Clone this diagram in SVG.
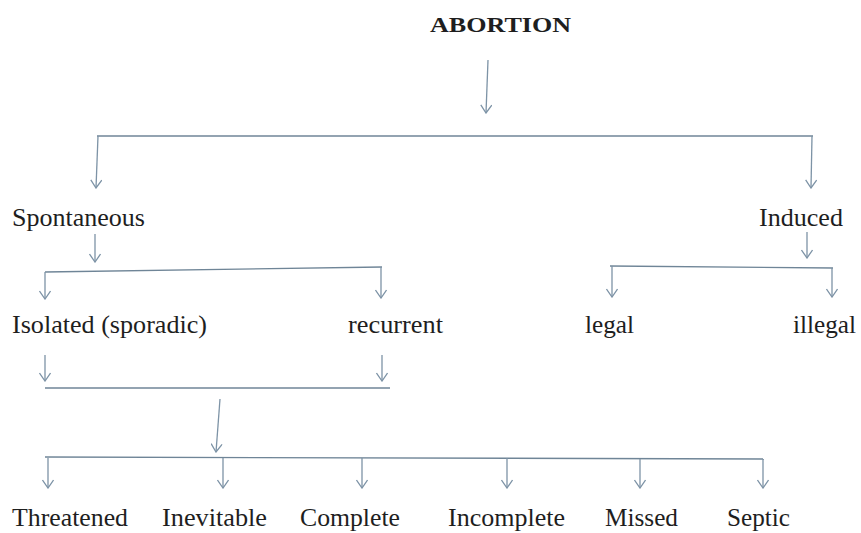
<svg xmlns="http://www.w3.org/2000/svg" width="861" height="533" viewBox="0 0 861 533">
<defs>
<marker id="ah" markerUnits="userSpaceOnUse" viewBox="0 0 10 12" refX="9" refY="6" markerWidth="10" markerHeight="12" orient="auto">
<path d="M1,0.5 L9,6 L1,11.5" fill="none" stroke="#7d93a6" stroke-width="1.3"/>
</marker>
</defs>
<style>
.t{font-family:"Liberation Serif","Times New Roman",serif;font-size:24.5px;fill:#1e1e1e}
.b{font-weight:bold;font-size:22px}
.ln{stroke:#6f8597;stroke-width:1.4;fill:none}
.ar{stroke:#7d93a6;stroke-width:1.3;fill:none;marker-end:url(#ah)}
</style>
<rect width="861" height="533" fill="#ffffff"/>
<g id="connectors">
<line class="ar" x1="488" y1="60" x2="486" y2="113"/>
<line class="ln" x1="97" y1="136" x2="813" y2="136"/>
<line class="ar" x1="98" y1="136" x2="96" y2="188"/>
<line class="ar" x1="812" y1="136" x2="811" y2="188"/>
<line class="ar" x1="95" y1="234" x2="95" y2="262"/>
<line class="ln" x1="45" y1="272" x2="382" y2="267"/>
<line class="ar" x1="45" y1="272" x2="45" y2="299"/>
<line class="ar" x1="381" y1="267" x2="381" y2="298"/>
<line class="ar" x1="807" y1="232" x2="807" y2="258"/>
<line class="ln" x1="610" y1="266" x2="833" y2="268"/>
<line class="ar" x1="612" y1="266" x2="612" y2="297"/>
<line class="ar" x1="832" y1="268" x2="832" y2="297"/>
<line class="ar" x1="45" y1="355" x2="45" y2="381"/>
<line class="ar" x1="382" y1="355" x2="382" y2="381"/>
<line class="ln" x1="45" y1="388" x2="390" y2="388"/>
<line class="ar" x1="220" y1="399" x2="216" y2="452"/>
<line class="ln" x1="45" y1="457" x2="764" y2="459"/>
<line class="ar" x1="48" y1="458" x2="48" y2="488"/>
<line class="ar" x1="223" y1="458" x2="223" y2="488"/>
<line class="ar" x1="362" y1="458" x2="362" y2="488"/>
<line class="ar" x1="507" y1="458" x2="507" y2="488"/>
<line class="ar" x1="640" y1="459" x2="640" y2="488"/>
<line class="ar" x1="763" y1="459" x2="763" y2="488"/>
</g>
<g id="n-abortion"><text class="t b" x="430" y="32" textLength="141" lengthAdjust="spacingAndGlyphs">ABORTION</text></g>
<g id="n-spontaneous"><text class="t" x="12" y="226" textLength="133" lengthAdjust="spacingAndGlyphs">Spontaneous</text></g>
<g id="n-induced"><text class="t" x="759" y="226" textLength="84" lengthAdjust="spacingAndGlyphs">Induced</text></g>
<g id="n-isolated"><text class="t" x="12" y="333" textLength="195" lengthAdjust="spacingAndGlyphs">Isolated (sporadic)</text></g>
<g id="n-recurrent"><text class="t" x="348" y="333" textLength="95" lengthAdjust="spacingAndGlyphs">recurrent</text></g>
<g id="n-legal"><text class="t" x="585" y="333" textLength="49" lengthAdjust="spacingAndGlyphs">legal</text></g>
<g id="n-illegal"><text class="t" x="793" y="333" textLength="63" lengthAdjust="spacingAndGlyphs">illegal</text></g>
<g id="n-threatened"><text class="t" x="12" y="526" textLength="116" lengthAdjust="spacingAndGlyphs">Threatened</text></g>
<g id="n-inevitable"><text class="t" x="162" y="526" textLength="105" lengthAdjust="spacingAndGlyphs">Inevitable</text></g>
<g id="n-complete"><text class="t" x="300" y="526" textLength="100" lengthAdjust="spacingAndGlyphs">Complete</text></g>
<g id="n-incomplete"><text class="t" x="448" y="526" textLength="117" lengthAdjust="spacingAndGlyphs">Incomplete</text></g>
<g id="n-missed"><text class="t" x="605" y="526" textLength="73" lengthAdjust="spacingAndGlyphs">Missed</text></g>
<g id="n-septic"><text class="t" x="727" y="526" textLength="63" lengthAdjust="spacingAndGlyphs">Septic</text></g>
</svg>
